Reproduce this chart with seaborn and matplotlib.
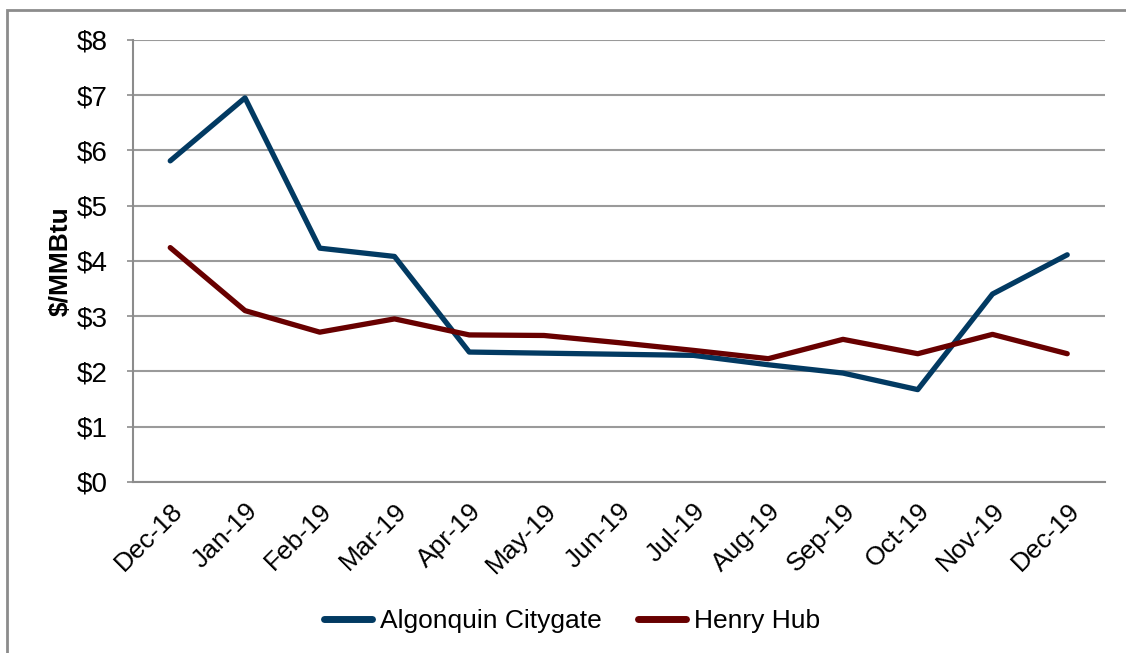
import pandas as pd
import matplotlib.pyplot as plt
import seaborn as sns
from matplotlib.patches import Rectangle

# Monthly average prices, $/MMBtu
months = ["Dec-18", "Jan-19", "Feb-19", "Mar-19", "Apr-19", "May-19", "Jun-19",
          "Jul-19", "Aug-19", "Sep-19", "Oct-19", "Nov-19", "Dec-19"]
algonquin = [5.81, 6.95, 4.23, 4.08, 2.35, 2.33, 2.31, 2.29, 2.12, 1.97, 1.67, 3.40, 4.11]
henry_hub = [4.24, 3.10, 2.71, 2.95, 2.66, 2.65, 2.52, 2.38, 2.23, 2.58, 2.32, 2.67, 2.32]

series_names = ["Algonquin Citygate", "Henry Hub"]
colors = ["#023A62", "#680000"]

df = pd.DataFrame({
    "Month": months * 2,
    "Price": algonquin + henry_hub,
    "Series": [series_names[0]] * len(months) + [series_names[1]] * len(months),
})
df["x"] = list(range(len(months))) * 2

sns.set_style("white")
plt.rcParams["font.family"] = ["Liberation Sans", "DejaVu Sans"]
plt.rcParams["text.color"] = "black"
plt.rcParams["axes.labelcolor"] = "black"
plt.rcParams["xtick.labelcolor"] = "black"
plt.rcParams["ytick.labelcolor"] = "black"

fig = plt.figure(figsize=(11.26, 6.53), dpi=100)
ax = fig.add_axes([0.118, 0.262, 0.863, 0.677])

sns.lineplot(data=df, x="x", y="Price", hue="Series", palette=colors,
             linewidth=3.8, ax=ax, solid_capstyle="round", legend=False)

ax.set_xlim(-0.5, len(months) - 0.5)
ax.set_ylim(0, 8)
ax.set_yticks(range(0, 9))
ax.set_yticklabels([f"${v}" for v in range(0, 9)], fontsize=20)
ax.set_xticks(range(len(months)))
ax.set_xticklabels(months, rotation=45, ha="right", rotation_mode="anchor", fontsize=19)
ax.tick_params(axis="x", length=0, pad=12)
ax.tick_params(axis="y", length=4, color="#8c8c8c", width=1.2, pad=14, left=True)

ax.set_xlabel("")
ax.set_ylabel("$/MMBtu", fontsize=19, fontweight="bold", labelpad=3)

ax.grid(axis="y", color="#9a9a9a", linewidth=1.5)
ax.set_axisbelow(True)
for side in ["top", "right"]:
    ax.spines[side].set_visible(False)
for side in ["left", "bottom"]:
    ax.spines[side].set_color("#8c8c8c")
    ax.spines[side].set_linewidth(1.5)

handles = [plt.Line2D([], [], color=c, linewidth=5, solid_capstyle="round") for c in colors]
fig.legend(handles, series_names, loc="center", bbox_to_anchor=(0.508, 0.049),
           ncol=2, frameon=False, fontsize=19, handlelength=1.85,
           handletextpad=0.3, columnspacing=1.35)

# outer chart frame
fig.patches.append(Rectangle((7 / 1126, -0.05), 1.2, 1 - 10 / 653 + 0.05,
                             transform=fig.transFigure, fill=False,
                             edgecolor="#8c8c8c", linewidth=2))

fig.savefig("out.png", dpi=100)
